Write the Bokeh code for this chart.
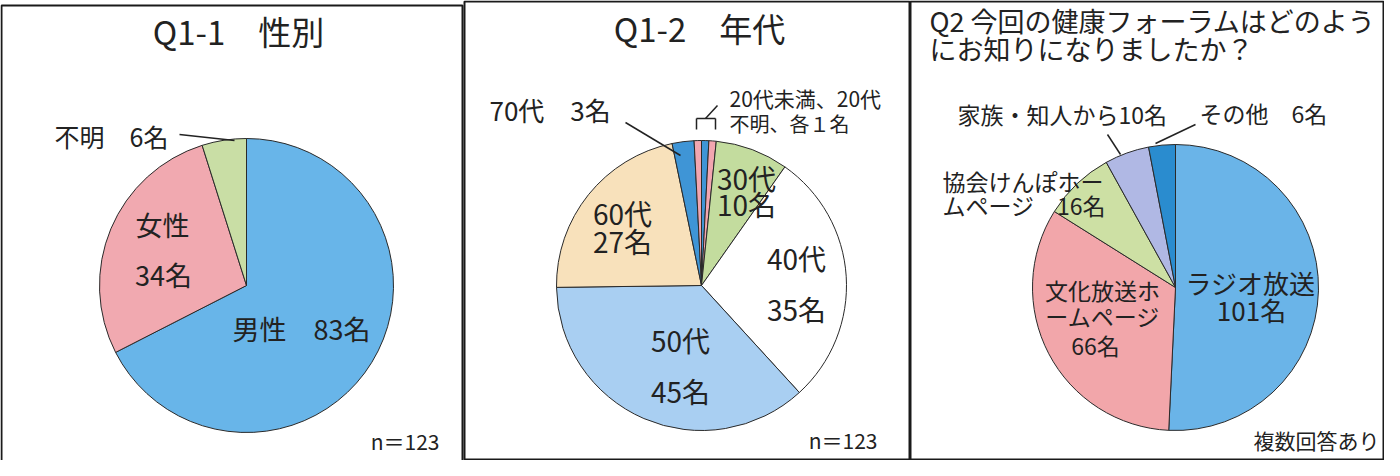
import numpy as np
from bokeh.plotting import figure
from bokeh.models import Range1d
from bokeh.embed import file_html
from bokeh.resources import INLINE
from bokeh.core.properties import value

# ---------------- data ----------------
q11_labels = ["男性", "女性", "不明"]
q11_values = [83, 34, 6]
q11_colors = ["#68b5e9", "#f1a9b0", "#c9dea5"]

q12_labels = ["20代", "不明", "30代", "40代", "50代", "60代", "70代", "20代未満"]
q12_values = [1, 1, 10, 35, 45, 27, 3, 1]
q12_colors = ["#3f95d6", "#f2a6b0", "#c3dc9e", "#ffffff", "#a9cff2", "#f8e1bb", "#3f95d6", "#f2a6b0"]

q2_labels = ["ラジオ放送", "文化放送ホームページ", "協会けんぽホームページ", "家族・知人から", "その他"]
q2_values = [101, 66, 16, 10, 6]
q2_colors = ["#6ab4e8", "#f2a6aa", "#cde0a4", "#b0b8e4", "#2a8ccf"]

n_total = sum(q11_values)

# ---------------- figure ----------------
PW, PH = 1384, 460
TOP = 476  # page y -> data y


def Y(v):
    return TOP - v


FONT = value("Noto Sans CJK JP")
TXT = "#222222"

p = figure(width=PW, height=PH, x_range=Range1d(8, 8 + PW), y_range=Range1d(8, 8 + PH),
           output_backend="svg", toolbar_location=None, min_border=0,
           x_axis_location=None, y_axis_location=None, outline_line_color=None)
p.grid.visible = False
p.background_fill_color = "white"
p.border_fill_color = "white"


def pie(cx, cy, r, vals, cols):
    fr = np.concatenate([[0.0], np.cumsum(vals)]) / float(sum(vals))
    start = np.pi / 2 - fr[:-1] * 2 * np.pi
    end = np.pi / 2 - fr[1:] * 2 * np.pi
    p.wedge(x=[cx] * len(vals), y=[Y(cy)] * len(vals), radius=r,
            start_angle=list(start), end_angle=list(end), direction="clock",
            fill_color=cols, line_color="#2a2a2a", line_width=1)


def txt(x, y, s, size, align="center"):
    p.text(x=[x], y=[Y(y)], text=[s], text_font=FONT, text_font_size=f"{size}px",
           text_align=align, text_baseline="middle", text_color=TXT)


def seg(x0, y0, x1, y1, w=1.5):
    p.segment(x0=[x0], y0=[Y(y0)], x1=[x1], y1=[Y(y1)], line_color=TXT, line_width=w)


# panel borders
p.quad(left=[9, 472, 918], right=[470, 917, 1391], top=[Y(13), Y(9), Y(9)],
       bottom=[Y(490), Y(467), Y(467)], fill_color=None, line_color="#1a1a1a", line_width=2)

# ---- Panel 1 ----
pie(254, 293, 147, q11_values, q11_colors)
txt(246, 38, "Q1-1　性別", 33)
txt(62, 143, f"{q11_labels[2]}　{q11_values[2]}名", 25, "left")
seg(187, 142, 242, 148)
txt(170, 232, q11_labels[1], 27)
txt(171, 282, f"{q11_values[1]}名", 27)
txt(309, 336, f"{q11_labels[0]}　{q11_values[0]}名", 27)
txt(447, 448, f"n＝{n_total}", 21, "right")

# ---- Panel 2 ----
pie(709, 293, 145, q12_values, q12_colors)
txt(707, 35, "Q1-2　年代", 33)
txt(497, 117, f"{q12_labels[6]}　{q12_values[6]}名", 26, "left")
seg(633, 130, 688, 163)
txt(737, 105, f"{q12_labels[7]}、{q12_labels[0]}", 21, "left")
txt(737, 131, f"{q12_labels[1]}、各１名", 20, "left")
seg(704, 137, 704, 126)
seg(704, 126, 723, 126)
seg(723, 126, 723, 137)
seg(713, 126, 725, 113)
txt(754, 185, q12_labels[2], 28)
txt(754, 211, f"{q12_values[2]}名", 28)
txt(804, 265, q12_labels[3], 28)
txt(804, 316, f"{q12_values[3]}名", 28)
txt(688, 347, q12_labels[4], 28)
txt(688, 398, f"{q12_values[4]}名", 28)
txt(630, 220, q12_labels[5], 28)
txt(630, 248, f"{q12_values[5]}名", 28)
txt(885, 447, f"n＝{sum(q12_values)}", 21, "right")

# ---- Panel 3 ----
pie(1183, 295, 143, q2_values, q2_colors)
txt(937, 28, "Q2 今回の健康フォーラムはどのよう", 27, "left")
txt(937, 56, "にお知りになりましたか？", 27, "left")
txt(965, 121, f"{q2_labels[3]}{q2_values[3]}名", 23, "left")
seg(1115, 142, 1128, 162)
txt(1207, 120, f"{q2_labels[4]}　{q2_values[4]}名", 23, "left")
seg(1163, 151, 1203, 132)
txt(950, 188, "協会けんぽホー", 23, "left")
txt(950, 212, f"ムページ　{q2_values[2]}名", 23, "left")
txt(1110, 297, "文化放送ホ", 23)
txt(1110, 323, "ームページ", 23)
txt(1103, 352, f"{q2_values[1]}名", 23)
txt(1258, 290, q2_labels[0], 26)
txt(1259, 317, f"{q2_values[0]}名", 26)
txt(1387, 447, "複数回答あり", 21, "right")

open("out.html", "w").write(file_html(p, INLINE))
